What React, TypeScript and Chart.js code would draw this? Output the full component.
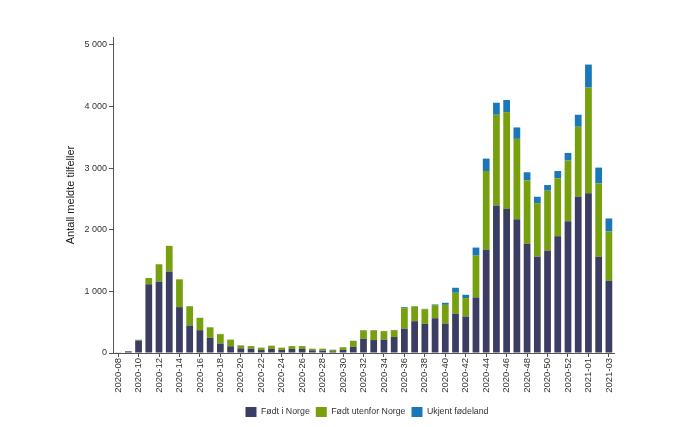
import React, { useEffect, useRef } from "react";
import Chart from "chart.js/auto";

const weeks = [
	"2020-08", "2020-09", "2020-10", "2020-11", "2020-12", "2020-13", "2020-14",
	"2020-15", "2020-16", "2020-17", "2020-18", "2020-19", "2020-20", "2020-21",
	"2020-22", "2020-23", "2020-24", "2020-25", "2020-26", "2020-27", "2020-28",
	"2020-29", "2020-30", "2020-31", "2020-32", "2020-33", "2020-34", "2020-35",
	"2020-36", "2020-37", "2020-38", "2020-39", "2020-40", "2020-41", "2020-42",
	"2020-43", "2020-44", "2020-45", "2020-46", "2020-47", "2020-48", "2020-49",
	"2020-50", "2020-51", "2020-52", "2020-53", "2021-01", "2021-02", "2021-03",
];

const bornInNorway = [
	6, 27, 200, 1115, 1157, 1320, 744, 446, 370, 245, 152, 109, 76, 70, 49, 65, 49,
	65, 65, 43, 38, 27, 49, 100, 230, 210, 217, 260, 396, 516, 472, 564, 478, 635,
	592, 901, 1677, 2393, 2334, 2171, 1769, 1563, 1661, 1894, 2138, 2540, 2589,
	1558, 1172,
];

const bornAbroad = [
	0, 2, 15, 101, 282, 418, 451, 310, 198, 170, 153, 105, 47, 42, 36, 52, 36, 47,
	47, 25, 30, 25, 44, 95, 138, 158, 137, 110, 331, 236, 238, 213, 303, 342, 298,
	678, 1275, 1471, 1573, 1302, 1031, 868, 971, 939, 983, 1129, 1715, 1193, 798,
];

const unknownOrigin = [
	0, 0, 0, 0, 0, 0, 0, 5, 3, 3, 5, 3, 2, 2, 2, 2, 2, 2, 2, 2, 2, 2, 2, 3, 4, 4, 4,
	4, 16, 8, 6, 10, 33, 81, 54, 131, 201, 195, 196, 185, 131, 103, 92, 119, 124,
	195, 374, 256, 212,
];

const yTicks = [0, 1000, 2000, 3000, 4000, 5000];

const fmt = (v: number) => (v === 0 ? "0" : `${v / 1000} 000`);

// nudge legend to the right so it sits where the original one does
const shiftLegend = {
	id: "shiftLegend",
	afterLayout(chart: any) {
		const lg = chart.legend;
		if (lg) {
			lg.left += 30;
			lg.right += 30;
		}
	},
};

const App: React.FC = () => {
	const canvasRef = useRef<HTMLCanvasElement>(null);

	useEffect(() => {
		if (!canvasRef.current) return;
		const textColor = "#333333";
		const axisColor = "#555555";
		const family = "Liberation Sans, Arial, sans-serif";
		const chart = new Chart(canvasRef.current, {
			type: "bar",
			data: {
				labels: weeks,
				datasets: [
					{ label: "Født i Norge", data: bornInNorway, backgroundColor: "#3b3d63", borderWidth: 0 },
					{ label: "Født utenfor Norge", data: bornAbroad, backgroundColor: "#76a00e", borderWidth: 0 },
					{ label: "Ukjent fødeland", data: unknownOrigin, backgroundColor: "#1a78b8", borderWidth: 0 },
				],
			},
			options: {
				animation: false,
				responsive: true,
				maintainAspectRatio: false,
				datasets: { bar: { barPercentage: 0.66, categoryPercentage: 1 } },
				layout: { padding: { left: 60, top: 37, right: 69, bottom: 0 } },
				plugins: {
					tooltip: { enabled: false },
					legend: {
						position: "bottom",
						labels: {
							boxWidth: 11,
							boxHeight: 10,
							padding: 6,
							color: textColor,
							font: { family, size: 8.8 },
						},
					},
				},
				scales: {
					x: {
						stacked: true,
						border: { display: true, color: axisColor },
						grid: {
							drawOnChartArea: false,
							drawTicks: true,
							tickLength: 4,
							offset: false,
							color: (ctx: any) => (ctx.index % 2 === 0 ? axisColor : "rgba(0,0,0,0)"),
						},
						ticks: {
							autoSkip: false,
							minRotation: 90,
							maxRotation: 90,
							padding: 1,
							color: textColor,
							font: { family, size: 9.5 },
							callback: (_v: any, i: number) => (i % 2 === 0 ? weeks[i] : ""),
						},
						afterFit: (scale: any) => {
							scale.height = 48;
						},
					},
					y: {
						stacked: true,
						min: 0,
						max: 5125,
						border: { display: true, color: axisColor },
						grid: { drawOnChartArea: false, drawTicks: true, tickLength: 4, color: axisColor },
						afterBuildTicks: (scale: any) => {
							scale.ticks = yTicks.map((v) => ({ value: v }));
						},
						ticks: {
							padding: 2,
							color: textColor,
							font: { family, size: 9 },
							callback: (v: any) => fmt(Number(v)),
						},
						title: {
							display: true,
							text: "Antall meldte tilfeller",
							color: "#222222",
							font: { family, size: 11 },
						},
						afterFit: (scale: any) => {
							scale.width = 53;
						},
					},
				},
			},
			plugins: [shiftLegend],
		});
		return () => {
			chart.destroy();
		};
	}, []);

	return (
		<div style={{ position: "fixed", left: 0, top: 0, width: 683, height: 427, background: "#fff" }}>
			<canvas ref={canvasRef} />
		</div>
	);
};

export default App;
